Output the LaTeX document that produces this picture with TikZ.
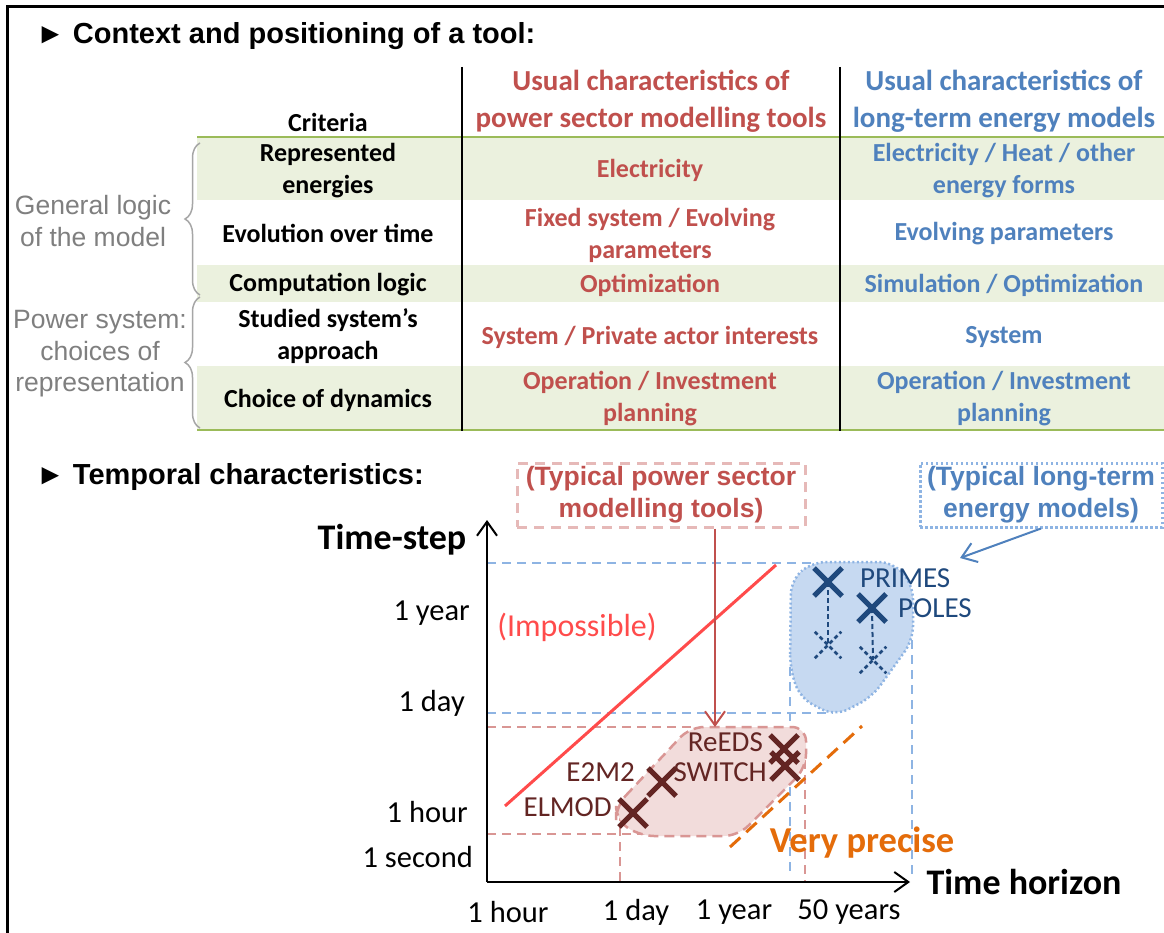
\documentclass[tikz,border=0pt]{standalone}
\usepackage{fontspec}
\setmainfont{Carlito}
\newfontfamily\arialf{Liberation Sans}
\usetikzlibrary{arrows.meta,shapes.misc,decorations.pathreplacing}

\definecolor{tblred}{HTML}{C0504D}
\definecolor{tblblue}{HTML}{4F81BD}
\definecolor{sidegray}{HTML}{7F7F7F}
\definecolor{bracegray}{HTML}{A6A6A6}
\definecolor{rulegreen}{HTML}{9BBB59}
\definecolor{shadegreen}{HTML}{EBF1DE}
\definecolor{darkred}{HTML}{632523}
\definecolor{pinkline}{HTML}{D99694}
\definecolor{boxpink}{HTML}{E6B9B8}
\definecolor{pinkfill}{HTML}{F2DCDB}
\definecolor{lightblueline}{HTML}{8EB4E3}
\definecolor{bluefill}{HTML}{C6D9F1}
\definecolor{darkblue}{HTML}{1F497D}
\definecolor{impred}{HTML}{FF4B4B}
\definecolor{orangeln}{HTML}{E46C0A}

\tikzset{
  titletext/.style={font=\arialf\bfseries\fontsize{29}{34}\selectfont, anchor=west, inner sep=0pt},
  hdr/.style={font=\bfseries\fontsize{29}{37}\selectfont, align=center, inner sep=0pt},
  cell/.style={font=\bfseries\fontsize{26}{32}\selectfont, align=center, inner sep=0pt},
  side/.style={font=\arialf\fontsize{26.5}{31.5}\selectfont, text=sidegray, align=center, inner sep=0pt},
  tick/.style={font=\fontsize{30.5}{36}\selectfont, inner sep=0pt},
  axlabel/.style={font=\bfseries\fontsize{36}{44}\selectfont, inner sep=0pt},
  mlabel/.style={font=\fontsize{29}{34}\selectfont, inner sep=0pt},
  xmark/.style={shape=cross out, line width=5pt, minimum size=23pt, inner sep=0pt},
  xdash/.style={shape=cross out, draw=darkblue, line width=2.5pt, dash pattern=on 4pt off 3pt, minimum size=24pt, inner sep=0pt},
  guideblue/.style={draw=lightblueline, line width=1.8pt, dash pattern=on 9pt off 6pt},
  guidered/.style={draw=pinkline, line width=1.8pt, dash pattern=on 9pt off 6pt},
  gbrace/.style={draw=bracegray, line width=1.5pt, decorate, decoration={brace, amplitude=15pt}},
  barb/.style={-{Straight Barb[length=14pt,width=20pt]}},
}

\begin{document}
\begin{tikzpicture}[x=1pt,y=-1pt]
\useasboundingbox (0,0) rectangle (1164,933);
\fill[white] (0,0) rectangle (1164,933);

% frame
\draw[line width=3pt] (7,933) -- (7,7) -- (1164,7);

% ---------- section 1 ----------
\node[titletext] (t1) at (36,36) {► Context and positioning of a tool:};

% row shading
\fill[shadegreen] (197,137) rectangle (1164,200);
\fill[shadegreen] (197,265) rectangle (1164,302);
\fill[shadegreen] (197,366) rectangle (1164,430);
% green rules
\draw[rulegreen, line width=2.5pt] (197,137) -- (1164,137);
\draw[rulegreen, line width=2.5pt] (197,430) -- (1164,430);
% column lines
\draw[line width=2pt] (462,67) -- (462,431);
\draw[line width=2pt] (840,67) -- (840,431);

% headers
\node[cell] (crit) at (328,122) {Criteria};
\node[hdr, text=tblred] (hred) at (651,101.5) {Usual characteristics of\\power sector modelling tools};
\node[hdr, text=tblblue] (hblue) at (1004,101.5) {Usual characteristics of\\long-term energy models};

% rows
\node[cell] (c1) at (328,170.5) {Represented\\energies};
\node[cell, text=tblred] (r1) at (650,170) {Electricity};
\node[cell, text=tblblue] (b1) at (1004,171) {Electricity / Heat / other\\energy forms};

\node[cell] (c2) at (328,233) {Evolution over time};
\node[cell, text=tblred] (r2) at (650,235) {Fixed system / Evolving\\parameters};
\node[cell, text=tblblue] (b2) at (1004,234) {Evolving parameters};

\node[cell] (c3) at (328,285) {Computation logic};
\node[cell, text=tblred] (r3) at (650,285) {Optimization};
\node[cell, text=tblblue] (b3) at (1004,285) {Simulation / Optimization};

\node[cell] (c4) at (328,336) {Studied system’s\\approach};
\node[cell, text=tblred] (r4) at (650,337) {System / Private actor interests};
\node[cell, text=tblblue] (b4) at (1004,337) {System};

\node[cell] (c5) at (328,400) {Choice of dynamics};
\node[cell, text=tblred] (r5) at (650,399) {Operation / Investment\\planning};
\node[cell, text=tblblue] (b5) at (1004,399) {Operation / Investment\\planning};

% braces and side labels
\draw[gbrace] (200,295) -- (200,143);
\draw[gbrace] (200,428) -- (200,297);
\node[side] (s1) at (93,221) {General logic\\of the model};
\node[side] (s2) at (100,354) {Power system:\\choices of\\representation};

% ---------- section 2 ----------
\node[titletext] (t2) at (36,477) {► Temporal characteristics:};

\coordinate (O) at (487,882);
\coordinate (ytop) at (487,520);
\coordinate (xend) at (910,882);

% guides
\draw[guideblue] (487,563) -- (815,563);
\draw[guideblue] (487,713) -- (833,713);
\draw[guideblue] (790,667) -- (790,874);
\draw[guideblue] (912,640) -- (912,874);
\draw[guidered] (487,727) -- (692,727);
\draw[guidered] (487,834) -- (645,834);
\draw[guidered] (620,812) -- (620,882);
\draw[guidered] (805,760) -- (805,882);

% blobs
\filldraw[fill=pinkfill, draw=pinkline, line width=2.5pt, dash pattern=on 10pt off 6pt, rounded corners=14pt]
  (616,806) -- (690,727) -- (806,727) -- (806,768) -- (738,836) -- (640,836) -- (616,820) -- cycle;
\filldraw[fill=bluefill, draw=lightblueline, line width=2.5pt, dash pattern=on 2pt off 2.5pt, rounded corners=14pt]
  (790,668) -- (791,580) -- (812,562) -- (893,562) -- (913,585) -- (913,640) -- (872,697) -- (835,716) -- (800,698) -- cycle;

% impossible line and very precise line
\coordinate (imp1) at (505,806);
\coordinate (imp2) at (776,565);
\draw[impred, line width=3pt] (imp1) -- (imp2);
\coordinate (vp1) at (730,847);
\coordinate (vp2) at (862,726);
\draw[orangeln, line width=3pt, dash pattern=on 14pt off 8pt] (vp1) -- (vp2);

% axes
\draw[line width=2pt, barb] (O) -- (ytop);
\draw[line width=2pt, barb] (O) -- (xend);

\node[axlabel] (ylab) at (392,540) {Time-step};
\node[axlabel] (xlab) at (1024,882) {Time horizon};

\node[tick, anchor=east] (y1) at (470,613) {1 year};
\node[tick, anchor=east] (y2) at (465,703) {1 day};
\node[tick, anchor=east] (y3) at (468,812) {1 hour};
\node[tick, anchor=east] (y4) at (473,857) {1 second};
\node[tick] (x1) at (508,912) {1 hour};
\node[tick] (x2) at (636,912) {1 day};
\node[tick] (x3) at (734,912) {1 year};
\node[tick] (x4) at (849,912) {50 years};

\node[font=\fontsize{32}{38}\selectfont, text=impred, inner sep=0pt] (imp) at (577,627) {(Impossible)};
\node[font=\bfseries\fontsize{36.5}{40}\selectfont, text=orangeln, inner sep=0pt] (vp) at (862,843) {Very precise};

% crosses
\node[xmark, draw=darkred] (xelmod) at (633,813) {};
\node[xmark, draw=darkred] (xe2m2) at (662,782) {};
\node[xmark, draw=darkred] (xreeds) at (784,749) {};
\node[xmark, draw=darkred] (xswitch) at (785,766) {};
\node[mlabel, text=darkred, anchor=east] (lelmod) at (612,807) {ELMOD};
\node[mlabel, text=darkred, anchor=east] (le2m2) at (635,772) {E2M2};
\node[mlabel, text=darkred, anchor=east] (lreeds) at (763,742) {ReEDS};
\node[mlabel, text=darkred, anchor=east] (lswitch) at (767,772) {SWITCH};

\node[xmark, draw=darkblue] (xprimes) at (828,582) {};
\node[xmark, draw=darkblue] (xpoles) at (872,608) {};
\node[xdash] (dprimes) at (828,645) {};
\node[xdash] (dpoles) at (873,660) {};
\draw[darkblue, line width=2pt, dash pattern=on 5pt off 3pt] (xprimes.center) -- (dprimes.center);
\draw[darkblue, line width=2pt, dash pattern=on 5pt off 3pt] (xpoles.center) -- (dpoles.center);
\node[mlabel, text=darkblue, anchor=west] (lprimes) at (860,578) {PRIMES};
\node[mlabel, text=darkblue, anchor=west] (lpoles) at (898,608) {POLES};

% callout boxes
\node[draw=boxpink, line width=3pt, dash pattern=on 10pt off 7pt, minimum width=288pt, minimum height=64pt,
      font=\arialf\bfseries\fontsize{26.5}{32}\selectfont, text=tblred, align=center, inner sep=0pt]
  (box1) at (661,495) {(Typical power sector\\modelling tools)};
\node[draw=lightblueline, line width=3pt, dash pattern=on 2.5pt off 2.5pt, minimum width=242pt, minimum height=64pt,
      font=\arialf\bfseries\fontsize{26.5}{32}\selectfont, text=tblblue, align=center, inner sep=0pt]
  (box2) at (1041,495) {(Typical long-term\\energy models)};

\coordinate (redtip) at (715,727);
\coordinate (bluetip) at (960,558);
\draw[tblred, line width=2pt, barb] (redtip |- box1.south) -- (redtip);
\draw[tblblue, line width=2pt, barb] (box2.south) -- (bluetip);
\end{tikzpicture}
\end{document}
